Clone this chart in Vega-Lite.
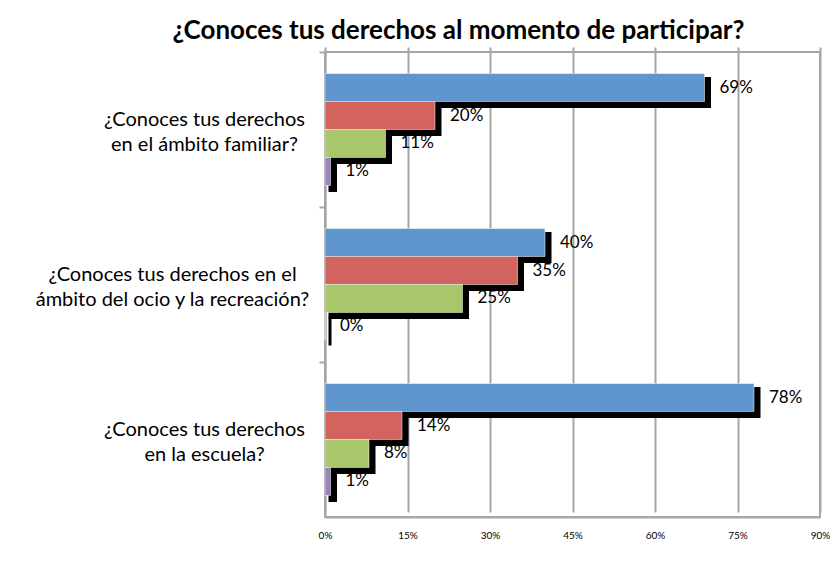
{
  "$schema": "https://vega.github.io/schema/vega-lite/v6.json",
  "width": 495,
  "height": 465,
  "autosize": {"type": "none"},
  "padding": {"left": 325, "top": 52, "right": 14, "bottom": 52},
  "background": "white",
  "config": {
    "font": "Lato",
    "view": {"stroke": "#A6A6A6", "strokeWidth": 2}
  },
  "title": {
    "text": "¿Conoces tus derechos al momento de participar?",
    "fontSize": 26,
    "fontWeight": "bold",
    "font": "Lato",
    "color": "#000000",
    "anchor": "middle",
    "dx": -114,
    "offset": 7
  },
  "data": {
    "values": [
      {"pregunta": "¿Conoces tus derechos|en el ámbito familiar?", "serie": "A", "valor": 69},
      {"pregunta": "¿Conoces tus derechos|en el ámbito familiar?", "serie": "B", "valor": 20},
      {"pregunta": "¿Conoces tus derechos|en el ámbito familiar?", "serie": "C", "valor": 11},
      {"pregunta": "¿Conoces tus derechos|en el ámbito familiar?", "serie": "D", "valor": 1},
      {"pregunta": "¿Conoces tus derechos en el|ámbito del ocio y la recreación?", "serie": "A", "valor": 40},
      {"pregunta": "¿Conoces tus derechos en el|ámbito del ocio y la recreación?", "serie": "B", "valor": 35},
      {"pregunta": "¿Conoces tus derechos en el|ámbito del ocio y la recreación?", "serie": "C", "valor": 25},
      {"pregunta": "¿Conoces tus derechos en el|ámbito del ocio y la recreación?", "serie": "D", "valor": 0},
      {"pregunta": "¿Conoces tus derechos|en la escuela?", "serie": "A", "valor": 78},
      {"pregunta": "¿Conoces tus derechos|en la escuela?", "serie": "B", "valor": 14},
      {"pregunta": "¿Conoces tus derechos|en la escuela?", "serie": "C", "valor": 8},
      {"pregunta": "¿Conoces tus derechos|en la escuela?", "serie": "D", "valor": 1}
    ]
  },
  "transform": [{"calculate": "datum.valor + '%'", "as": "etiqueta"}],
  "layer": [
    {
      "mark": {"type": "bar", "color": "#000000", "stroke": "#000000", "strokeWidth": 3, "xOffset": 5},
      "encoding": {
        "x": {"field": "valor", "type": "quantitative", "scale": {"domain": [0, 90], "nice": false},
              "axis": {
                "values": [0, 15, 30, 45, 60, 75, 90],
                "labelExpr": "datum.value + '%'",
                "labelFontSize": 10,
                "labelColor": "#000000",
                "labelPadding": 13,
                "labelFlush": false,
                "ticks": false,
                "grid": true,
                "gridColor": "#A6A6A6",
                "gridWidth": 2,
                "domainColor": "#A6A6A6",
                "domainWidth": 2,
                "title": null
              }},
        "y": {"field": "pregunta", "type": "nominal", "sort": null, "axis": null,
              "scale": {"range": [5, 470], "paddingInner": 0, "paddingOuter": 0}},
        "yOffset": {"field": "serie", "type": "nominal", "sort": null,
                    "scale": {"paddingInner": 0, "paddingOuter": 0.768}}
      }
    },
    {
      "mark": {"type": "bar", "stroke": "#ffffff", "strokeOpacity": 0.5, "strokeWidth": 1},
      "encoding": {
        "x": {"field": "valor", "type": "quantitative", "scale": {"domain": [0, 90], "nice": false}},
        "y": {"field": "pregunta", "type": "nominal", "sort": null,
              "scale": {"paddingInner": 0, "paddingOuter": 0},
              "axis": {
                "orient": "left",
                "title": null,
                "bandPosition": 0,
                "labelOffset": -10,
                "labelExpr": "split(datum.label, '|')",
                "labelAlign": "center",
                "labelBaseline": "middle",
                "labelFontSize": 20,
                "labelLineHeight": 25,
                "labelColor": "#000000",
                "labelLimit": 400,
                "labelPadding": {"condition": {"test": "indexof(datum.value, 'ocio') >= 0", "value": 147}, "value": 115},
                "tickSize": 6,
                "tickColor": "#A6A6A6",
                "tickWidth": 2,
                "domainColor": "#A6A6A6",
                "domainWidth": 2,
                "grid": false
              }},
        "yOffset": {"field": "serie", "type": "nominal", "sort": null,
                    "scale": {"paddingInner": 0, "paddingOuter": 0.768}},
        "color": {"field": "serie", "type": "nominal", "legend": null,
                  "scale": {"domain": ["A", "B", "C", "D"], "range": ["#6096CE", "#D2635F", "#A8C76B", "#9B83BE"]}}
      }
    },
    {
      "mark": {"type": "text", "align": "left", "baseline": "middle", "dx": 15, "fontSize": 17, "font": "Lato", "color": "#000000"},
      "encoding": {
        "x": {"field": "valor", "type": "quantitative", "scale": {"domain": [0, 90], "nice": false}},
        "y": {"field": "pregunta", "type": "nominal", "sort": null, "axis": null,
              "scale": {"type": "band", "paddingInner": 0, "paddingOuter": 0}},
        "yOffset": {"field": "serie", "type": "nominal", "sort": null,
                    "scale": {"type": "band", "paddingInner": 0, "paddingOuter": 0.768}},
        "text": {"field": "etiqueta"}
      }
    }
  ],
  "resolve": {"scale": {"y": "independent", "yOffset": "independent"}, "axis": {"y": "independent"}}
}
